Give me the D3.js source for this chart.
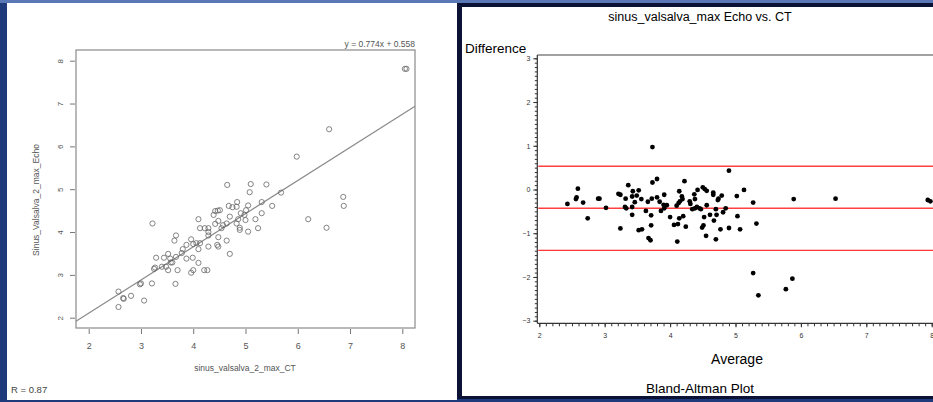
<!DOCTYPE html>
<html>
<head>
<meta charset="utf-8">
<script src="https://cdn.jsdelivr.net/npm/d3@7"></script>
<style>
  body { margin: 0; background: #1e3a7a; }
  svg { display: block; font-family: "Liberation Sans", Arial, sans-serif; }
</style>
</head>
<body>
<div id="container"></div>
<script>
const width = 933,
    height = 402;

// LEFT PANEL DATA: CT (x) vs Echo (y)
const ctValues = [8.05, 8.08, 6.60, 5.98, 4.65, 5.10, 5.40, 5.08, 5.68, 6.87, 6.88, 5.51, 5.31, 5.05, 4.84, 4.83, 4.68, 4.75,
    4.42, 4.47, 4.51, 4.39, 4.91, 5.31, 5.01, 4.98, 4.70, 5.00, 5.19, 4.86, 4.48, 4.10, 3.22, 6.20, 6.55, 5.24, 5.05,
    4.89, 4.89, 4.83, 4.64, 4.57, 4.54, 4.42, 4.13, 4.22, 4.29, 4.29, 4.29, 4.48, 4.64, 4.46, 4.48, 4.29, 4.70, 3.96,
    3.64, 3.67, 3.87, 4.00, 4.06, 4.13, 4.10, 3.80, 3.78, 3.67, 3.52, 3.44, 3.29, 3.60, 3.57, 3.56, 3.87, 3.99, 4.10,
    3.48, 3.52, 3.27, 3.25, 3.70, 4.00, 3.96, 4.21, 4.27, 3.66, 3.21, 3.00, 2.98, 2.81, 2.66, 2.67, 2.57, 2.57, 3.06, 3.40]
const echoValues = [7.81, 7.81, 6.40, 5.76, 5.10, 5.12, 5.11, 4.93, 4.92, 4.82, 4.61, 4.61, 4.70, 4.62, 4.70, 4.59, 4.61, 4.58,
    4.49, 4.50, 4.51, 4.40, 4.44, 4.44, 4.51, 4.40, 4.36, 4.28, 4.30, 4.30, 4.26, 4.30, 4.20, 4.30, 4.10, 4.09, 4.01,
    4.05, 4.10, 4.20, 4.20, 4.16, 4.09, 4.19, 4.09, 4.09, 4.09, 4.00, 3.92, 3.88, 3.80, 3.70, 3.66, 3.66, 3.49, 3.83,
    3.80, 3.92, 3.70, 3.72, 3.74, 3.74, 3.60, 3.60, 3.51, 3.42, 3.49, 3.40, 3.40, 3.29, 3.29, 3.38, 3.38, 3.40, 3.28,
    3.19, 3.11, 3.17, 3.14, 3.11, 3.11, 3.05, 3.11, 3.11, 2.79, 2.80, 2.80, 2.78, 2.51, 2.46, 2.44, 2.61, 2.25, 2.40, 3.19]
const leftTicks = [2, 3, 4, 5, 6, 7, 8]
const fitSlope = 0.774,
    fitIntercept = 0.558

// RIGHT PANEL DATA: average vs difference
const avgValues = [3.73, 4.90, 3.80, 3.73, 4.22, 3.36, 2.59, 3.52, 3.43, 5.13, 4.14, 4.42, 4.50, 4.53, 4.56, 4.66, 3.21, 3.24,
    2.57, 2.56, 2.43, 2.67, 2.74, 2.90, 2.92, 3.02, 3.24, 3.32, 3.31, 3.33, 3.42, 3.46, 3.49, 3.42, 3.42, 3.56, 3.66,
    3.72, 3.63, 3.71, 3.71, 3.52, 3.57, 3.67, 3.70, 3.80, 3.84, 3.91, 3.90, 3.91, 3.95, 3.86, 4.00, 4.06, 4.12, 4.11,
    4.10, 4.13, 4.15, 4.18, 4.19, 4.14, 4.20, 4.24, 4.30, 4.31, 4.34, 4.38, 4.37, 4.38, 4.41, 4.45, 4.47, 4.56, 4.52,
    4.49, 4.51, 4.55, 4.61, 4.67, 4.70, 4.71, 4.70, 4.73, 4.74, 4.79, 4.77, 4.81, 4.85, 4.90, 5.02, 5.03, 5.07, 5.27,
    5.32, 5.27, 5.35, 5.77, 5.87, 5.89, 6.53, 7.94, 7.98, 4.66]
const diffValues = [0.97, 0.43, 0.24, 0.16, 0.19, 0.10, 0.02, -0.02, -0.04, -0.01, -0.04, -0.01, 0.05, 0.01, -0.03, -0.07, -0.10, -0.12,
    -0.18, -0.22, -0.33, -0.30, -0.66, -0.21, -0.21, -0.42, -0.89, -0.21, -0.40, -0.43, -0.16, -0.29, -0.14, -0.40, -0.58, -0.22, -0.28,
    -0.21, -0.49, -0.59, -0.82, -0.93, -0.91, -1.11, -1.16, -0.18, -0.28, -0.12, -0.35, -0.43, -0.36, -0.49, -0.63, -0.81, -0.79, -1.19,
    -0.37, -0.31, -0.27, -0.16, -0.22, -0.66, -0.61, -0.85, -0.27, -0.33, -0.45, -0.43, -0.11, -0.22, -0.40, -0.43, -0.45, -0.36, -0.63,
    -0.87, -0.82, -1.06, -0.58, -0.71, -0.45, -0.58, -1.14, -0.24, -0.21, -0.14, -0.91, -0.52, -0.43, -0.88, -0.15, -0.61, -0.91, -0.30,
    -0.78, -1.91, -2.42, -2.28, -2.04, -0.22, -0.21, -0.24, -0.27, -0.12]
const avgTicks = [2, 3, 4, 5, 6, 7, 8]
const diffTicks = [-3, -2, -1, 0, 1, 2, 3]
const meanDiff = -0.43,
    upperLimit = 0.53,
    lowerLimit = -1.39

const leftData = ctValues.map((d, i) => ({ ct: d, echo: echoValues[i] }))
const rightData = avgValues.map((d, i) => ({ avg: d, diff: diffValues[i] }))
const intFormat = d3.format("d")

/*HTML Elements */
const svg = d3.select("#container")
    .append("svg")
    .attr("width", width)
    .attr("height", height)

// BACKGROUND / PANELS
svg.append("rect").attr("width", width).attr("height", height).attr("fill", "#1e3a7a")
svg.append("rect").attr("width", width).attr("height", 3).attr("fill", "#5a78b6")
svg.append("rect").attr("x", 7).attr("y", 3).attr("width", 450).attr("height", 397).attr("fill", "white")
svg.append("rect").attr("x", 457).attr("y", 3).attr("width", 476).attr("height", 396).attr("fill", "#0b1235")
svg.append("rect").attr("x", 462).attr("y", 7).attr("width", 471).attr("height", 389).attr("fill", "white")

/**LEFT PANEL SCALES*/
const box = { left: 76, right: 415, top: 50, bottom: 328 }
const xScale = d3.scaleLinear().domain([2, 8]).range([88.7, 402.3])
const yScale = d3.scaleLinear().domain([2, 8]).range([317.7, 60.7])

const left = svg.append("g").attr("fill", "#555")

// BOX
left.append("rect")
    .attr("x", box.left).attr("y", box.top)
    .attr("width", box.right - box.left).attr("height", box.bottom - box.top)
    .attr("fill", "none").attr("stroke", "#8a8a8a").attr("stroke-width", 1.2)

// X AXIS
const xAxis = d3.axisBottom(xScale).tickValues(leftTicks).tickFormat(intFormat).tickSize(5).tickPadding(9).tickSizeOuter(0)
const gx = left.append("g")
    .attr("transform", `translate(0,${box.bottom + 1})`)
    .call(xAxis)
gx.select(".domain").remove()
gx.selectAll("line").attr("stroke", "#777")
gx.selectAll("text").attr("fill", "#555").attr("font-size", 9)

// Y AXIS (rotated labels)
const yAxis = d3.axisLeft(yScale).tickValues(leftTicks).tickFormat(intFormat).tickSize(5).tickSizeOuter(0)
const gy = left.append("g")
    .attr("transform", `translate(${box.left - 1},0)`)
    .call(yAxis)
gy.select(".domain").remove()
gy.selectAll("line").attr("stroke", "#777")
gy.selectAll("text")
    .attr("fill", "#555").attr("font-size", 8)
    .attr("x", 0)
    .attr("text-anchor", "middle")
    .attr("transform", "translate(-15,0) rotate(-90)")
    .attr("dy", "0.35em")

// REGRESSION LINE
const x0 = xScale.invert(box.left),
    x1 = xScale.invert(box.right)
left.append("line")
    .attr("x1", xScale(x0)).attr("y1", yScale(fitSlope * x0 + fitIntercept))
    .attr("x2", xScale(x1)).attr("y2", yScale(fitSlope * x1 + fitIntercept))
    .attr("stroke", "#8a8a8a").attr("stroke-width", 1.2)

// POINTS
left.selectAll("circle.pt")
    .data(leftData)
    .join("circle")
    .attr("class", "pt")
    .attr("cx", d => xScale(d.ct))
    .attr("cy", d => yScale(d.echo))
    .attr("r", 2.6)
    .attr("fill", "none")
    .attr("stroke", "#666")
    .attr("stroke-width", 0.8)

// TEXTS
left.append("text")
    .attr("x", box.right).attr("y", 47)
    .attr("text-anchor", "end").attr("font-size", 8.5)
    .text(`y = ${fitSlope}x + ${fitIntercept}`)
left.append("text")
    .attr("x", 245).attr("y", 371)
    .attr("text-anchor", "middle").attr("font-size", 8.5)
    .text("sinus_valsalva_2_max_CT")
left.append("text")
    .attr("transform", "translate(39,200) rotate(-90)")
    .attr("text-anchor", "middle").attr("font-size", 8.5)
    .text("Sinus_Valsalva_2_max_Echo")
left.append("text")
    .attr("x", 11).attr("y", 393)
    .attr("font-size", 9.5).attr("fill", "#444")
    .text("R = 0.87")

/**RIGHT PANEL SCALES*/
const axScale = d3.scaleLinear().domain([2, 8]).range([539.3, 931.7])
const dyScale = d3.scaleLinear().domain([-3, 3]).range([320.7, 58.3])
const frame = { left: 537.3, top: 55, bottom: 323.3 }

const right = svg.append("g")

// FRAME TOP
right.append("line")
    .attr("x1", frame.left).attr("x2", width)
    .attr("y1", frame.top).attr("y2", frame.top)
    .attr("stroke", "#444").attr("stroke-width", 1.2)

// MINOR TICKS
const gxMinor = right.append("g")
    .attr("transform", `translate(0,${frame.bottom})`)
    .call(d3.axisBottom(axScale).ticks(60).tickSize(3).tickFormat(""))
gxMinor.select(".domain").remove()
gxMinor.selectAll("line").attr("stroke", "#333")

const gyMinor = right.append("g")
    .attr("transform", `translate(${frame.left},0)`)
    .call(d3.axisLeft(dyScale).ticks(60).tickSize(2.5).tickFormat(""))
gyMinor.select(".domain").remove()
gyMinor.selectAll("line").attr("stroke", "#333")

// X AXIS
const gax = right.append("g")
    .attr("transform", `translate(0,${frame.bottom})`)
    .call(d3.axisBottom(axScale).tickValues(avgTicks).tickFormat(intFormat).tickSize(4).tickPadding(6).tickSizeOuter(0))
gax.select(".domain").attr("d", `M${frame.left},0H${width}`).attr("stroke", "#333").attr("stroke-width", 1.2)
gax.selectAll("line").attr("stroke", "#333")
gax.selectAll("text").attr("fill", "#333").attr("font-size", 7)

// Y AXIS
const gay = right.append("g")
    .attr("transform", `translate(${frame.left},0)`)
    .call(d3.axisLeft(dyScale).tickValues(diffTicks).tickFormat(intFormat).tickSize(4).tickPadding(3).tickSizeOuter(0))
gay.select(".domain").attr("d", `M0,${frame.top}V${frame.bottom}`).attr("stroke", "#333").attr("stroke-width", 1.2)
gay.selectAll("line").attr("stroke", "#333")
gay.selectAll("text").attr("fill", "#333").attr("font-size", 7)

// LIMIT LINES
right.selectAll("line.limit")
    .data([upperLimit, meanDiff, lowerLimit])
    .join("line")
    .attr("class", "limit")
    .attr("x1", frame.left + 1).attr("x2", width)
    .attr("y1", d => dyScale(d)).attr("y2", d => dyScale(d))
    .attr("stroke", (d, i) => i === 2 ? "#ff0000" : "#ff4040")
    .attr("stroke-width", (d, i) => i === 2 ? 1 : 1.5)

// POINTS
right.selectAll("circle.dot")
    .data(rightData)
    .join("circle")
    .attr("class", "dot")
    .attr("cx", d => axScale(d.avg))
    .attr("cy", d => dyScale(d.diff))
    .attr("r", 2.4)
    .attr("fill", "black")

// TITLES
right.append("text")
    .attr("x", 700).attr("y", 21)
    .attr("text-anchor", "middle").attr("font-size", 12.5)
    .text("sinus_valsalva_max Echo vs. CT")
right.append("text")
    .attr("x", 465).attr("y", 53)
    .attr("font-size", 13.5)
    .text("Difference")
right.append("text")
    .attr("x", 737).attr("y", 364)
    .attr("text-anchor", "middle").attr("font-size", 14)
    .text("Average")
right.append("text")
    .attr("x", 700).attr("y", 393)
    .attr("text-anchor", "middle").attr("font-size", 13.5)
    .text("Bland-Altman Plot")
</script>
</body>
</html>
